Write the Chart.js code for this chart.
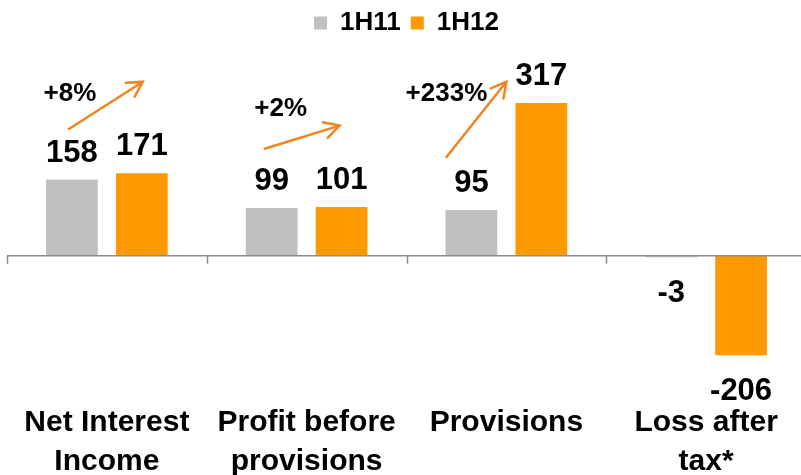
<!DOCTYPE html>
<html>
<head>
<meta charset="utf-8">
<script src="https://cdn.jsdelivr.net/npm/chart.js@4.4.0/dist/chart.umd.min.js"></script>
<style>
  html, body { margin: 0; padding: 0; background: #fff; overflow: hidden; }
  #wrap { width: 806px; height: 475px; }
</style>
</head>
<body>
<div id="wrap"><canvas id="chart"></canvas></div>
<script>
// data
const categories = [['Net Interest', 'Income'], ['Profit before', 'provisions'], ['Provisions'], ['Loss after', 'tax*']];
const series1H11 = [158, 99, 95, -3];
const series1H12 = [171, 101, 317, -206];
const growthLabels = ['+8%', '+2%', '+233%'];

// growth arrows, anchored in data units: [offset from category centre, value]
const arrowSpots = [
    { from: [-0.19, 263], to: [0.18, 361], label: [-0.185, 336] },
    { from: [-0.21, 222], to: [0.165, 270], label: [-0.13, 305] },
    { from: [-0.30, 205], to: [0.0, 361], label: [-0.30, 336] }
];

const FONT = '"Liberation Sans", Arial, sans-serif';

const extras = {
    id: 'extras',
    afterDatasetsDraw(chart) {
        const { ctx, chartArea, scales: { x, y } } = chart;
        const step = x.getPixelForValue(1) - x.getPixelForValue(0);
        const y0 = y.getPixelForValue(0);
        ctx.save();

        // zero line with tick marks between categories
        ctx.strokeStyle = '#8c8c8c';
        ctx.lineWidth = 1.5;
        ctx.beginPath();
        ctx.moveTo(chartArea.left, y0);
        ctx.lineTo(chartArea.right, y0);
        for (let i = 0; i <= categories.length; i++) {
            const px = Math.round(x.getPixelForValue(i) - step / 2) + 0.5;
            ctx.moveTo(px, y0);
            ctx.lineTo(px, y0 + 8);
        }
        ctx.stroke();

        // value labels
        ctx.fillStyle = '#000';
        ctx.font = 'bold 31px ' + FONT;
        ctx.textAlign = 'center';
        chart.data.datasets.forEach((ds, di) => {
            chart.getDatasetMeta(di).data.forEach((bar, i) => {
                const v = ds.data[i];
                if (v >= 0) {
                    ctx.textBaseline = 'alphabetic';
                    ctx.fillText(v, bar.x, bar.y - 18);
                } else {
                    ctx.textBaseline = 'top';
                    ctx.fillText(v, bar.x, Math.max(bar.y, y0) + 21);
                }
            });
        });

        // growth arrows
        ctx.strokeStyle = '#f0841e';
        ctx.lineWidth = 2.5;
        ctx.lineCap = 'round';
        ctx.font = 'bold 26px ' + FONT;
        ctx.textBaseline = 'middle';
        arrowSpots.forEach((a, i) => {
            const cx = x.getPixelForValue(i);
            const x1 = cx + a.from[0] * step, y1 = y.getPixelForValue(a.from[1]);
            const x2 = cx + a.to[0] * step, y2 = y.getPixelForValue(a.to[1]);
            const ang = Math.atan2(y2 - y1, x2 - x1);
            ctx.beginPath();
            ctx.moveTo(x1, y1);
            ctx.lineTo(x2, y2);
            ctx.moveTo(x2 - 17 * Math.cos(ang - 0.5), y2 - 17 * Math.sin(ang - 0.5));
            ctx.lineTo(x2, y2);
            ctx.lineTo(x2 - 17 * Math.cos(ang + 0.5), y2 - 17 * Math.sin(ang + 0.5));
            ctx.stroke();
            ctx.fillText(growthLabels[i], cx + a.label[0] * step, y.getPixelForValue(a.label[1]));
        });
        ctx.restore();
    }
};

new Chart(document.getElementById('chart'), {
    type: 'bar',
    data: {
        labels: categories,
        datasets: [
            { label: '1H11', data: series1H11, backgroundColor: '#c0c0c0' },
            { label: '1H12', data: series1H12, backgroundColor: '#ff9900' }
        ]
    },
    options: {
        responsive: true,
        maintainAspectRatio: false,
        animation: false,
        layout: { padding: { left: 7, right: 0, top: 0, bottom: -14 } },
        datasets: { bar: { barPercentage: 0.74, categoryPercentage: 0.7 } },
        plugins: {
            tooltip: { enabled: false },
            legend: {
                position: 'top',
                labels: {
                    boxWidth: 13,
                    boxHeight: 13,
                    padding: 10,
                    color: '#000',
                    font: { family: FONT, size: 26, weight: 'bold' }
                }
            }
        },
        scales: {
            x: {
                grid: { display: false },
                border: { display: false },
                ticks: {
                    color: '#000',
                    padding: 8,
                    maxRotation: 0,
                    autoSkip: false,
                    font: { family: FONT, size: 30, weight: 'bold', lineHeight: 1.3 }
                }
            },
            y: { display: false, min: -272, max: 435 }
        }
    },
    plugins: [extras]
});
</script>
</body>
</html>
